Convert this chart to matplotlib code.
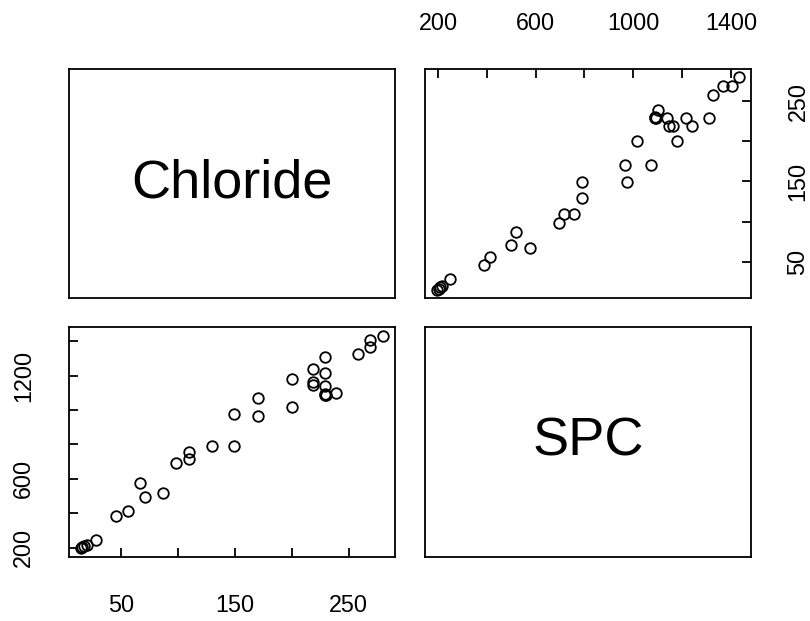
import matplotlib
matplotlib.use("Agg")
import matplotlib.pyplot as plt
import numpy as np

plt.rcParams['font.family'] = ['Liberation Sans', 'DejaVu Sans']

# Paired measurements
chloride = [15, 16, 18, 20, 28, 46, 56, 67, 71, 87,
            98, 110, 110, 130, 149, 149, 170, 170, 200, 200,
            219, 219, 219, 229, 229, 229, 229, 229, 230, 239,
            258, 269, 269, 280]
spc = [196, 203, 210, 218, 247, 387, 412, 577, 497, 521,
       694, 717, 759, 791, 791, 975, 968, 1072, 1015, 1178,
       1241, 1162, 1145, 1310, 1218, 1140, 1090, 1093, 1088, 1100,
       1325, 1405, 1368, 1433]

var_names = ["Chloride", "SPC"]

cl_ticks = [50, 100, 150, 200, 250]
cl_labels = ["50", "", "150", "", "250"]
spc_ticks = [200, 400, 600, 800, 1000, 1200, 1400]
spc_labels_left = ["200", "", "600", "", "", "1200", ""]
spc_labels_top = ["200", "", "600", "", "1000", "", "1400"]


def padded(v):
    lo, hi = min(v), max(v)
    d = 0.04 * (hi - lo)
    return lo - d, hi + d


W, H = 810, 621
fig = plt.figure(figsize=(W / 100, H / 100), dpi=100)


def panel(x0, y0, x1, y1):
    return fig.add_axes([x0 / W, 1 - y1 / H, (x1 - x0) / W, (y1 - y0) / H])


cols = [(69, 395), (425, 751)]
rows = [(69, 298), (327, 557)]

axs = [[panel(cols[c][0], rows[r][0], cols[c][1], rows[r][1]) for c in range(2)]
       for r in range(2)]

lw = 1.3
tick_fs = 16.8
for row in axs:
    for ax in row:
        for s in ax.spines.values():
            s.set_linewidth(lw)
        ax.tick_params(direction='in', length=6.5, width=lw,
                       labelsize=tick_fs, colors='black')
        ax.set_xticks([])
        ax.set_yticks([])

# Diagonal panels carry the variable names
for i, name in enumerate(var_names):
    ax = axs[i][i]
    ax.set_xlim(0, 1)
    ax.set_ylim(0, 1)
    ax.text(0.5, 0.5, name, ha='center', va='center', fontsize=39,
            transform=ax.transAxes)

mk = dict(marker='o', linestyle='none', markersize=7.6, markerfacecolor='none',
          markeredgecolor='black', markeredgewidth=1.3)

# Top-right: SPC (x) vs Chloride (y)
ax = axs[0][1]
ax.plot(spc, chloride, **mk)
ax.set_xlim(*padded(spc))
ax.set_ylim(*padded(chloride))
ax.xaxis.tick_top()
ax.set_xticks(spc_ticks)
ax.set_xticklabels(spc_labels_top)
ax.tick_params(axis='x', top=True, bottom=False, labeltop=True,
               labelbottom=False, pad=24.5)
ax.yaxis.tick_right()
ax.set_yticks(cl_ticks)
ax.set_yticklabels(cl_labels, rotation=90, va='center')
ax.tick_params(axis='y', right=True, left=False, labelright=True,
               labelleft=False, pad=25.5)

# Bottom-left: Chloride (x) vs SPC (y)
ax = axs[1][0]
ax.plot(chloride, spc, **mk)
ax.set_xlim(*padded(chloride))
ax.set_ylim(*padded(spc))
ax.set_xticks(cl_ticks)
ax.set_xticklabels(cl_labels)
ax.tick_params(axis='x', pad=27)
ax.set_yticks(spc_ticks)
ax.set_yticklabels(spc_labels_left, rotation=90, va='center')
ax.tick_params(axis='y', pad=24.5)

fig.savefig("out.png", dpi=100, facecolor='white')
